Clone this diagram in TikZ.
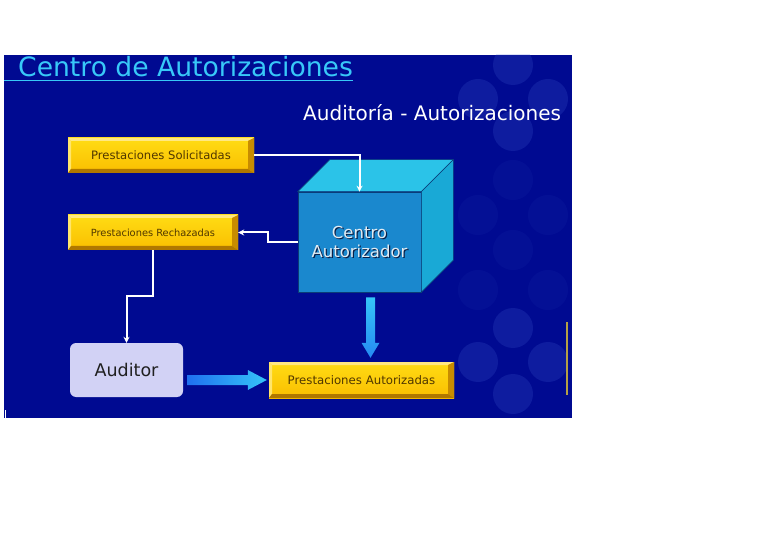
\documentclass[tikz,border=0pt]{standalone}
\usepackage{fontspec}
\setmainfont{DejaVu Sans}
\usetikzlibrary{arrows.meta,calc}
\definecolor{bg}{RGB}{0,10,145}
\definecolor{bubble}{RGB}{70,100,215}
\definecolor{titlec}{RGB}{56,200,248}
\definecolor{ytop}{RGB}{255,220,20}
\definecolor{ybot}{RGB}{250,190,0}
\definecolor{ylight}{RGB}{255,232,130}
\definecolor{ydark}{RGB}{200,140,0}
\definecolor{ydarker}{RGB}{176,120,0}
\definecolor{ytext}{RGB}{80,55,0}
\definecolor{audfill}{RGB}{210,210,245}
\definecolor{cfront}{RGB}{26,136,206}
\definecolor{ctop}{RGB}{43,195,232}
\definecolor{cright}{RGB}{25,169,214}
\definecolor{cedge}{RGB}{10,60,120}
\definecolor{arrA}{RGB}{31,112,240}
\definecolor{arrB}{RGB}{53,197,248}
\definecolor{artif}{RGB}{180,160,70}
\tikzset{
  ybox/.style={rectangle, inner sep=0pt, text=ytext, top color=ytop, bottom color=ybot,
    path picture={
      \coordinate (bsw) at (path picture bounding box.south west);
      \coordinate (bne) at (path picture bounding box.north east);
      \coordinate (bnw) at (bsw|-bne);
      \coordinate (bse) at (bsw-|bne);
      \fill[ylight] (bnw) -- (bne) -- ([xshift=-6pt,yshift=-3pt]bne) -- ([xshift=3pt,yshift=-3pt]bnw) -- cycle;
      \fill[ylight!80!ytop] (bnw) -- (bsw) -- ([xshift=3pt,yshift=4pt]bsw) -- ([xshift=3pt,yshift=-3pt]bnw) -- cycle;
      \fill[ydark] (bne) -- (bse) -- ([xshift=-6pt,yshift=4pt]bse) -- ([xshift=-6pt,yshift=-3pt]bne) -- cycle;
      \fill[ydarker] (bsw) -- (bse) -- ([xshift=-6pt,yshift=4pt]bse) -- ([xshift=3pt,yshift=4pt]bsw) -- cycle;
    }},
  wline/.style={draw=white, line width=2pt, -{Stealth[length=6pt,width=6pt]}},
  face/.style={draw=cedge, line width=0.6pt},
  bub/.style={fill=bubble, fill opacity=0.2},
  bubfaint/.style={fill=bubble, fill opacity=0.07}
}
\begin{document}
\begin{tikzpicture}[x=1pt,y=-1pt]
\useasboundingbox (0,0) rectangle (784,545);
\fill[white] (0,0) rectangle (784,545);
\fill[bg] (4,55) rectangle (572,418);
\begin{scope}
  \clip (4,55) rectangle (572,418);
  \foreach \cx/\cy in {513/99, 513/362} {
    \foreach \dx/\dy in {0/-34, -35/0, 35/0, 0/32} {
      \fill[bub] (\cx+\dx,\cy+\dy) circle[radius=20pt];
    }
  }
  \foreach \cx/\cy in {513/180, 478/215, 548/215, 513/250, 478/290, 548/290} {
    \fill[bubfaint] (\cx,\cy) circle[radius=20pt];
  }
\end{scope}
\draw[artif, line width=1.5pt] (567,322) -- (567,395);
\draw[white, line width=1pt] (5,410) -- (5,418);

% titles
\node[anchor=base west, inner sep=0pt, text=titlec, font=\fontsize{26.6}{30}\selectfont] (title) at (18,77) {Centro de Autorizaciones};
\draw[titlec, line width=1.5pt] (4,80.5) -- (title.east|-0,80.5);
\node[anchor=base west, inner sep=0pt, text=white, font=\fontsize{20}{24}\selectfont] (sub) at (303,121) {Auditoría - Autorizaciones};

% yellow boxes
\node[ybox, minimum width=186pt, minimum height=35pt, font=\fontsize{11.6}{13}\selectfont] (sol) at (161,155.5) {Prestaciones Solicitadas};
\node[ybox, minimum width=170pt, minimum height=35pt, font=\fontsize{9.85}{12}\selectfont] (rech) at (153,232.5) {Prestaciones Rechazadas};
\node[ybox, minimum width=185pt, minimum height=36pt, font=\fontsize{11.75}{13}\selectfont] (aut) at (361.5,380) {Prestaciones Autorizadas};

% auditor
\node[rectangle, rounded corners=6pt, fill=audfill, minimum width=113pt, minimum height=54pt, inner sep=0pt, text={rgb,255:red,32;green,32;blue,32}, font=\fontsize{17.5}{20}\selectfont] (aud) at (126.5,370) {Auditor};

% cube
\node[rectangle, face, fill=cfront, minimum width=123pt, minimum height=100pt, inner sep=0pt] (ca) at (359.5,242) {};
\fill[face, fill=ctop] (ca.north west) -- ++(32,-32) -- ($(ca.north east)+(32,-32)$) -- (ca.north east) -- cycle;
\fill[face, fill=cright] (ca.north east) -- ++(32,-32) -- ($(ca.south east)+(32,-32)$) -- (ca.south east) -- cycle;
\node[align=center, inner sep=0pt, text={rgb,255:red,10;green,30;blue,70}, font=\fontsize{16.5}{19}\selectfont] (cashadow) at ($(ca.center)+(1.2,1.2)$) {Centro\\Autorizador};
\node[align=center, inner sep=0pt, text={rgb,255:red,225;green,235;blue,242}, font=\fontsize{16.5}{19}\selectfont] (catext) at (ca.center) {Centro\\Autorizador};

% white connectors
\draw[wline] (sol.east) -| (ca.north);
\draw[wline] (ca.west) -- ++(-30,0) |- (rech.east);
\draw[wline] (rech.south) -- ++(0,46) -| (aud.north);

% thick blue arrows
\coordinate (hs) at ($(aud.east|-aut.west)+(4,0)$);
\coordinate (ht) at ($(aut.west)+(-2,0)$);
\shade[left color=arrA, right color=arrB]
  ($(hs)+(0,-5)$) -- ($(ht)+(-19,-5)$) -- ($(ht)+(-19,-10)$) -- (ht) -- ($(ht)+(-19,10)$) -- ($(ht)+(-19,5)$) -- ($(hs)+(0,5)$) -- cycle;
\coordinate (vs) at ($(ca.south)+(11,5)$);
\coordinate (vt) at ($(vs|-aut.north)+(0,-4)$);
\shade[top color=arrB, bottom color=arrA!70!arrB]
  ($(vs)+(-4.5,0)$) -- ($(vs)+(4.5,0)$) -- ($(vt)+(4.5,-15)$) -- ($(vt)+(9,-15)$) -- (vt) -- ($(vt)+(-9,-15)$) -- ($(vt)+(-4.5,-15)$) -- cycle;
\end{tikzpicture}
\end{document}
